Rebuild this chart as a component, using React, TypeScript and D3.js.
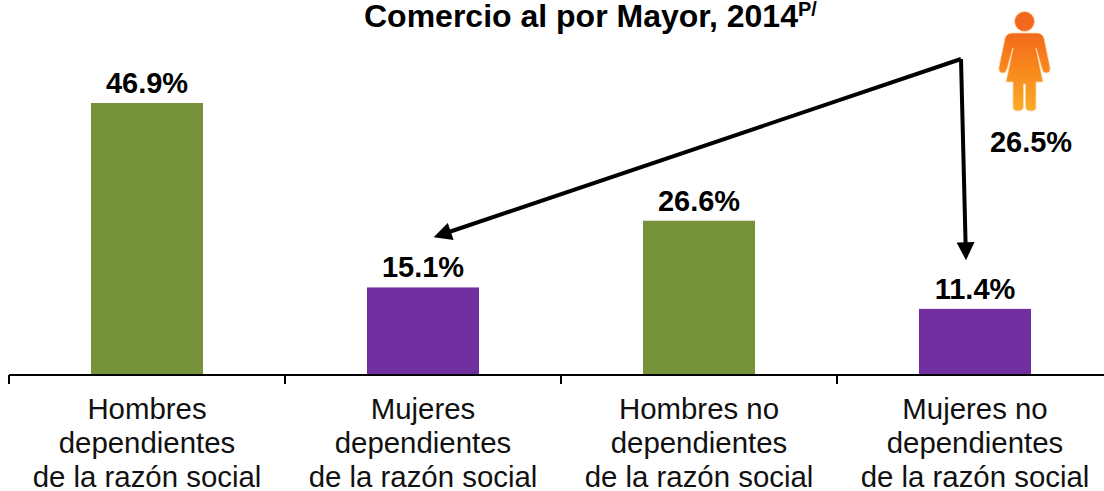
import React, { useEffect, useRef } from 'react';
import * as d3 from 'd3';

const categories = [
  ['Hombres', 'dependientes', 'de la razón social'],
  ['Mujeres', 'dependientes', 'de la razón social'],
  ['Hombres no', 'dependientes', 'de la razón social'],
  ['Mujeres no', 'dependientes', 'de la razón social'],
];
const values = [46.9, 15.1, 26.6, 11.4];
const barColors = ['#76933c', '#7030a0', '#76933c', '#7030a0'];
const womenTotal = 26.5;

const FONT = '"Liberation Sans", Arial, sans-serif';

export default function App() {
  const ref = useRef<SVGSVGElement>(null);

  useEffect(() => {
    const svg = d3.select(ref.current);
    svg.selectAll('*').remove();

    const x = d3.scaleBand<number>().domain([0, 1, 2, 3]).range([9, 1113]).paddingInner(0);
    const y = d3.scaleLinear().domain([0, 46.9]).range([375, 103]);
    const bw = 112;
    const cx = (i: number) => x(i)! + x.bandwidth() / 2;

    const defs = svg.append('defs');
    const grad = defs.append('linearGradient').attr('id', 'woman').attr('x1', 0).attr('y1', 0).attr('x2', 0).attr('y2', 1);
    grad.append('stop').attr('offset', '0%').attr('stop-color', '#f26a1f');
    grad.append('stop').attr('offset', '55%').attr('stop-color', '#f98d1f');
    grad.append('stop').attr('offset', '100%').attr('stop-color', '#fbab28');
    defs.append('filter').attr('id', 'soft').append('feGaussianBlur').attr('stdDeviation', 0.5);
    defs.append('marker')
      .attr('id', 'head')
      .attr('viewBox', '0 0 10 10')
      .attr('refX', 1)
      .attr('refY', 5)
      .attr('markerUnits', 'userSpaceOnUse')
      .attr('markerWidth', 20)
      .attr('markerHeight', 18)
      .attr('orient', 'auto')
      .append('path')
      .attr('d', 'M0,0L10,5L0,10Z')
      .attr('fill', '#000');

    // bars
    svg.selectAll('rect.bar')
      .data(values)
      .enter()
      .append('rect')
      .attr('class', 'bar')
      .attr('x', (_, i) => cx(i) - bw / 2)
      .attr('y', d => y(d))
      .attr('width', bw)
      .attr('height', d => y(0) - y(d))
      .attr('fill', (_, i) => barColors[i]);

    // axis with ticks on the band edges
    svg.append('line')
      .attr('x1', 9).attr('x2', 1104)
      .attr('y1', y(0)).attr('y2', y(0))
      .attr('stroke', '#000').attr('stroke-width', 2);
    [0, 1, 2, 3].forEach(i => {
      svg.append('line')
        .attr('x1', x(i)!).attr('x2', x(i)!)
        .attr('y1', y(0)).attr('y2', y(0) + 9)
        .attr('stroke', '#000').attr('stroke-width', 2);
    });

    // value labels
    svg.selectAll('text.val')
      .data(values)
      .enter()
      .append('text')
      .attr('class', 'val')
      .attr('x', (_, i) => cx(i))
      .attr('y', d => y(d) - 10)
      .attr('text-anchor', 'middle')
      .attr('font-family', FONT)
      .attr('font-weight', 'bold')
      .attr('font-size', 29)
      .text(d => d.toFixed(1) + '%');

    // category labels
    categories.forEach((lines, i) => {
      lines.forEach((line, j) => {
        svg.append('text')
          .attr('x', cx(i))
          .attr('y', 419 + j * 34)
          .attr('text-anchor', 'middle')
          .attr('font-family', FONT)
          .attr('font-size', 29.4)
          .attr('fill', '#111')
          .text(line);
      });
    });

    // title
    const title = svg.append('text')
      .attr('x', 364)
      .attr('y', 27)
      .attr('font-family', FONT)
      .attr('font-weight', 'bold')
      .attr('font-size', 32)
      .text('Comercio al por Mayor, 2014');
    title.append('tspan')
      .attr('font-size', 20)
      .attr('dy', -11)
      .text('P/');

    // arrows
    svg.append('path')
      .attr('d', 'M961,59L449,232')
      .attr('fill', 'none').attr('stroke', '#000').attr('stroke-width', 4)
      .attr('marker-end', 'url(#head)');
    svg.append('path')
      .attr('d', 'M961,59L965.6,244')
      .attr('fill', 'none').attr('stroke', '#000').attr('stroke-width', 4)
      .attr('marker-end', 'url(#head)');

    // woman icon
    const icon = svg.append('g')
      .attr('fill', 'url(#woman)')
      .attr('stroke', '#fbd9a8')
      .attr('stroke-width', 0.8)
      .attr('filter', 'url(#soft)');
    icon.append('circle').attr('cx', 1024.5).attr('cy', 21.5).attr('r', 10).attr('fill', '#f2681f');
    icon.append('path').attr('d',
      'M1012,33 L1037,33 Q1042,33 1044,38 L1050,67 Q1051,73 1046,73 Q1043,73 1042,69 L1036,48 L1043,82 L1036,82 L1036,107 Q1036,111 1031,111 Q1026,111 1025.5,107 L1025.5,84 L1023.5,84 L1023.5,107 Q1023,111 1018,111 Q1013,111 1013,107 L1013,82 L1006,82 L1013,48 L1007,69 Q1006,73 1003,73 Q998,73 999,67 L1005,38 Q1007,33 1012,33Z');

    svg.append('text')
      .attr('x', 1031)
      .attr('y', 152)
      .attr('text-anchor', 'middle')
      .attr('font-family', FONT)
      .attr('font-weight', 'bold')
      .attr('font-size', 29)
      .text(womenTotal.toFixed(1) + '%');
  }, []);

  return (
    <svg
      ref={ref}
      width={1104}
      height={491}
      style={{ position: 'fixed', left: 0, top: 0, background: '#fff' }}
    />
  );
}
